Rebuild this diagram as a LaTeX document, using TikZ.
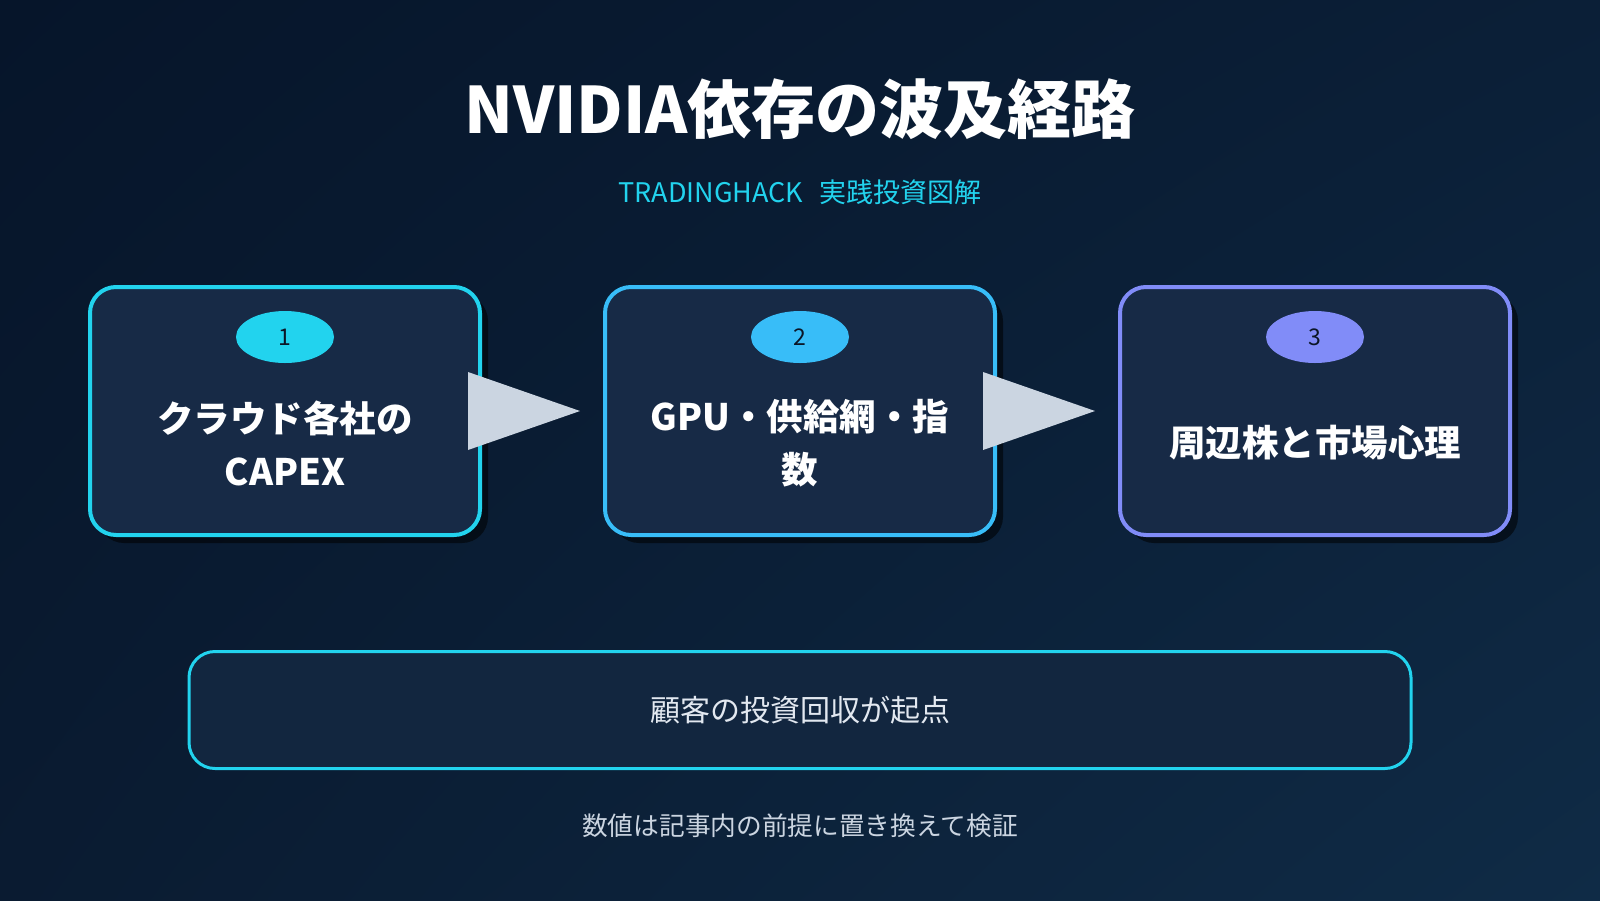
\documentclass[tikz,border=0pt]{standalone}
\usepackage{fontspec}
\setmainfont{Noto Sans CJK JP}
\usepackage{xcolor}
\usepackage{tikz}
\usetikzlibrary{positioning,calc,shapes,shadows,shadings}

\definecolor{bgTL}{HTML}{06152A}
\definecolor{bgTR}{HTML}{0B1F37}
\definecolor{bgBL}{HTML}{0A1B31}
\definecolor{bgBR}{HTML}{0F2B46}
\definecolor{boxfill}{HTML}{172A46}
\definecolor{notefill}{HTML}{12263F}
\definecolor{cyanA}{HTML}{22D3EE}
\definecolor{skyA}{HTML}{38BDF8}
\definecolor{indigoA}{HTML}{818CF8}
\definecolor{tipgray}{HTML}{CBD5E1}
\definecolor{softtext}{HTML}{E2E8F0}
\definecolor{inkdark}{HTML}{0B1627}

\begin{document}
\begin{tikzpicture}[x=1pt,y=-1pt,thick]
	\tikzstyle{stage}=[draw,line width=4pt,rounded corners=26pt,fill=boxfill,
		minimum width=390pt,minimum height=248pt,
		drop shadow={shadow xshift=8pt,shadow yshift=-8pt,fill=black,opacity=0.55}]
	\tikzstyle{badge}=[ellipse,inner sep=0pt,minimum width=98pt,minimum height=52pt,
		text=inkdark,font=\fontsize{23}{27}\selectfont]
	\tikzstyle{caption}=[align=center,text=white,font=\fontsize{36.5}{53}\selectfont\bfseries]
	\tikzstyle{tip}=[fill=tipgray]
	\tikzstyle{note}=[draw=cyanA,line width=3pt,rounded corners=26pt,fill=notefill,
		minimum width=1222pt,minimum height=117pt,text=softtext,
		font=\fontsize{30}{35}\selectfont]

	\useasboundingbox (0,0) rectangle (1600,900);
	\shade[upper left=bgTL,upper right=bgTR,lower left=bgBL,lower right=bgBR]
		(0,0) rectangle (1600,900);

	% heading
	\node[text=white,font=\fontsize{64}{74}\selectfont\bfseries] (title) at (800,109) {NVIDIA依存の波及経路};
	\node[text=cyanA,font=\fontsize{27}{31}\selectfont] (sub) at (800,192) {TRADINGHACK\hspace{0.6em}実践投資図解};

	% the three stages
	\node[stage,draw=cyanA] (c1) at (285,411) {};
	\node[stage,draw=skyA] (c2) [right = 121pt of c1] {};
	\node[stage,draw=indigoA] (c3) [right = 121pt of c2] {};

	\node[badge,fill=cyanA] (n1) at ($(c1.north)+(0,52)$) {1};
	\node[badge,fill=skyA] (n2) at ($(c2.north)+(0,52)$) {2};
	\node[badge,fill=indigoA] (n3) at ($(c3.north)+(0,52)$) {3};

	\node[caption] (l1) at ($(c1.center)+(0,32)$) {クラウド各社の\\CAPEX};
	\node[caption] (l2) at ($(c2.center)+(0,32)$) {GPU・供給網・指\\数};
	\node[caption] (l3) at ($(c3.center)+(0,32)$) {周辺株と市場心理};

	\foreach \a/\b in {c1/c2,c2/c3}
		\fill[tip] ($(\a.east)+(-14,-39)$) -- ($(\b.west)+(-23,0)$) -- ($(\a.east)+(-14,39)$) -- cycle;

	% base note and footer
	\node[note] (base) at (800,710) {顧客の投資回収が起点};
	\node[text=tipgray,font=\fontsize{25.7}{30}\selectfont] (foot) at (800,826) {数値は記事内の前提に置き換えて検証};
\end{tikzpicture}
\end{document}
